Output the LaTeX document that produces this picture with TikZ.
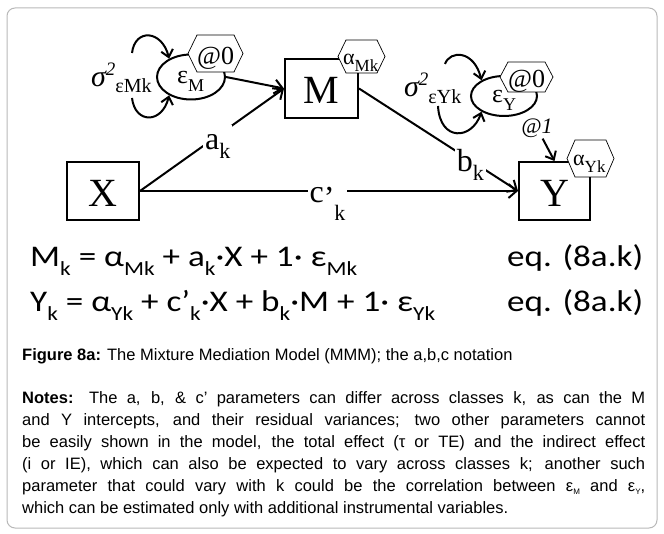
\documentclass[tikz,border=0pt]{standalone}
\usepackage{fontspec}
\setmainfont{Liberation Serif}
\newfontfamily\eqfont[FakeStretch=1.17]{Carlito}
\newfontfamily\capfont{Liberation Sans}
\usetikzlibrary{shapes.geometric,arrows.meta,calc}
\newcommand{\fs}[1]{\fontsize{#1}{#1}\selectfont}
\newcommand{\dn}[2]{\raisebox{-#1}{#2}}
\newcommand{\esub}[1]{\raisebox{-9pt}{\fs{20}#1}}
% hexagon: name, cx, cy, w, h, chamfer
\newcommand{\hexshape}[6]{%
  \coordinate (#1) at (#2,#3);
  \draw[hexline] ($(#1)+(-#4/2,0)$) -- ($(#1)+(-#4/2+#6,-#5/2)$) -- ($(#1)+(#4/2-#6,-#5/2)$)
    -- ($(#1)+(#4/2,0)$) -- ($(#1)+(#4/2-#6,#5/2)$) -- ($(#1)+(-#4/2+#6,#5/2)$) -- cycle;}
\begin{document}
\begin{tikzpicture}[x=1pt,y=-1pt,
  box/.style={draw, line width=2pt, inner sep=0pt, text height=31pt, text depth=0pt, font=\fs{40}},
  err/.style={draw, ellipse, line width=2pt, inner sep=0pt},
  conn/.style={line width=2pt, -{Straight Barb[length=8pt,width=14pt]}},
  loop/.style={line width=2pt, -{Straight Barb[length=7pt,width=12pt]}},
  lab/.style={fill=white, inner sep=2pt, font=\fs{32}},
  hexline/.style={draw, fill=white, line width=0.7pt},
  hext/.style={anchor=base west, inner sep=0pt},
  frame/.style={draw=black!28, line width=1pt, rounded corners=8pt},
  note/.style={hext, font=\capfont\fs{16.5}}
]
\useasboundingbox (0,0) rectangle (664,534);
\draw[frame] (7,8) rectangle (657,528);

% boxes
\node[box, minimum width=72pt, minimum height=58pt] (X) at (103,191) {X};
\node[box, minimum width=73pt, minimum height=59pt] (M) at (321.5,88.5) {M};
\node[box, minimum width=71pt, minimum height=58pt] (Y) at (554.5,191) {Y};

% error ellipses
\node[err, minimum width=68pt, minimum height=45pt] (eM) at (191,77) {};
\node[hext] (eMt) at (177,84) {\fs{26}ε\dn{8pt}{\fs{18}M}};
\node[err, minimum width=66pt, minimum height=40pt] (eY) at (504,96) {};
\node[hext] (eYt) at (492,103) {\fs{26}ε\dn{8pt}{\fs{18}Y}};

% variance labels
\node[hext] (sM) at (91,87) {\fs{30}\itshape σ\raisebox{11pt}{\fs{19}2}\upshape\raisebox{-6pt}{\fs{20}εMk}};
\node[hext] (sY) at (404,97) {\fs{30}\itshape σ\raisebox{11pt}{\fs{19}2}\upshape\raisebox{-7pt}{\fs{20}εYk}};

% variance loops
\coordinate (lMt) at (132,53);
\coordinate (lMb) at (132,98);
\coordinate (lYt) at (445,64);
\coordinate (lYb) at (438,106);
\draw[loop] (lMt) .. controls (135,28) and (162,30) .. (eM.140);
\draw[loop] (lMb) .. controls (135,124) and (162,124) .. (eM.220);
\draw[loop] (lYt) .. controls (450,50) and (474,50) .. (eY.145);
\draw[loop] (lYb) .. controls (440,142) and (472,140) .. (eY.215);

% paths
\draw[conn] (eM.east) -- (M.west);
\draw[conn] (X.east) -- node[lab, pos=0.54, yshift=-7pt] (ak) {\strut a\dn{9pt}{\fs{22}k}} (M.west);
\draw[conn] (X.east) -- node[lab, pos=0.496, yshift=-9pt] (ck) {\strut c\raisebox{-6pt}{’}\dn{18pt}{\fs{22}k}} (Y.west);
\draw[conn] (M.east) -- node[lab, pos=0.70, yshift=-5pt] (bk) {\strut b\dn{9pt}{\fs{22}k}} (Y.west);

% @1 fixed loading
\node[inner sep=1pt, font=\fs{22}\itshape] (at1) at (537,128) {@1};
\draw[line width=2pt, -{Straight Barb[length=7pt,width=12pt]}] (at1) -- (Y.north);

% hexagons
\hexshape{hM0}{215.5}{53.5}{55}{37}{9}
\node[hext] (hM0t) at (197,65) {\fs{26}@0};
\hexshape{hMa}{361.5}{56.5}{47}{33}{8}
\node[hext] (hMat) at (343,65) {\fs{22}α\dn{7pt}{\fs{17}Mk}};
\hexshape{hY0}{526.5}{77}{53}{30}{8}
\node[hext] (hY0t) at (508,88) {\fs{26}@0};
\hexshape{hYa}{590.5}{158.5}{47}{37}{8}
\node[hext] (hYat) at (573,166) {\fs{22}α\dn{7pt}{\fs{17}Yk}};

% equations
\node[hext, font=\eqfont\fs{30}] (eq1) at (30,267) {M\esub{k} = α\esub{Mk} + a\esub{k}·X + 1· ε\esub{Mk}};
\node[hext, font=\eqfont\fs{30}] (eq2) at (30,312) {Y\esub{k} = α\esub{Yk} + c’\esub{k}·X + b\esub{k}·M + 1· ε\esub{Yk}};
\node[hext, font=\eqfont\fs{30}] (eqn1) at (507,267) {eq. (8a.k)};
\node[hext, font=\eqfont\fs{30}] (eqn2) at (507,312) {eq. (8a.k)};

% caption and notes
\node[note] (cap) at (22,361) {\textbf{Figure 8a:} The Mixture Mediation Model (MMM); the a,b,c notation};
\node[note] (n1) at (22,403) {\makebox[623pt][s]{\textbf{Notes:} The a, b, \& c’ parameters can differ across classes k, as can the M}};
\node[note] (n2) at (22,425) {\makebox[623pt][s]{and Y intercepts, and their residual variances; two other parameters cannot}};
\node[note] (n3) at (22,447) {\makebox[623pt][s]{be easily shown in the model, the total effect (τ or TE) and the indirect effect}};
\node[note] (n4) at (22,469) {\makebox[623pt][s]{(i or IE), which can also be expected to vary across classes k; another such}};
\node[note] (n5) at (22,491) {\makebox[623pt][s]{parameter that could vary with k could be the correlation between ε\raisebox{-3pt}{\fs{8}M} and ε\raisebox{-3pt}{\fs{8}Y},}};
\node[note] (n6) at (22,513) {which can be estimated only with additional instrumental variables.};
\end{tikzpicture}
\end{document}
